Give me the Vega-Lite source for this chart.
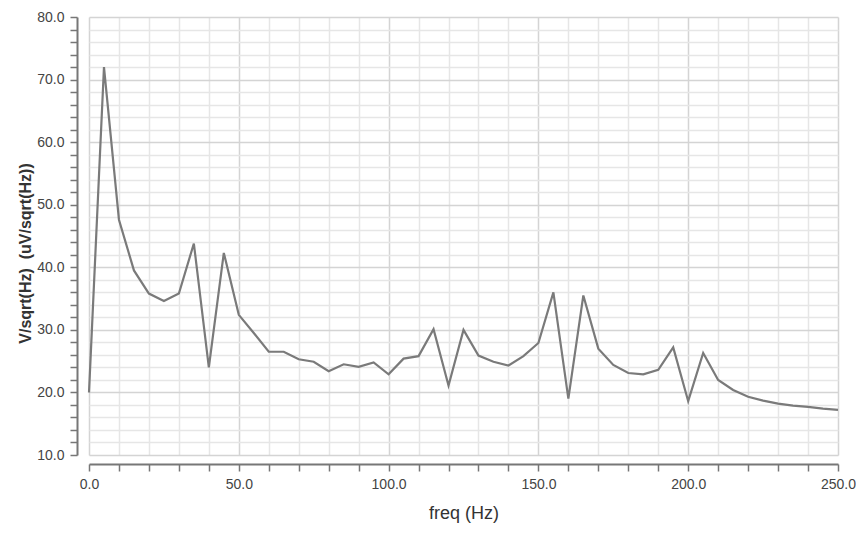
{
  "$schema": "https://vega.github.io/schema/vega-lite/v6.json",
  "autosize": "none",
  "width": 749,
  "height": 438,
  "padding": {"left": 89, "top": 17, "right": 18, "bottom": 84},
  "background": "white",
  "config": {
    "view": {"stroke": null},
    "font": "Liberation Sans"
  },
  "data": {
    "values": [
      {"freq": 0, "v": 20.0}, {"freq": 5, "v": 72.0}, {"freq": 10, "v": 47.6}, {"freq": 15, "v": 39.5},
      {"freq": 20, "v": 35.8}, {"freq": 25, "v": 34.6}, {"freq": 30, "v": 35.8}, {"freq": 35, "v": 43.8},
      {"freq": 40, "v": 24.0}, {"freq": 45, "v": 42.3}, {"freq": 50, "v": 32.4}, {"freq": 55, "v": 29.5},
      {"freq": 60, "v": 26.5}, {"freq": 65, "v": 26.5}, {"freq": 70, "v": 25.3}, {"freq": 75, "v": 24.9},
      {"freq": 80, "v": 23.4}, {"freq": 85, "v": 24.5}, {"freq": 90, "v": 24.1}, {"freq": 95, "v": 24.8},
      {"freq": 100, "v": 22.9}, {"freq": 105, "v": 25.4}, {"freq": 110, "v": 25.8}, {"freq": 115, "v": 30.1},
      {"freq": 120, "v": 21.1}, {"freq": 125, "v": 30.0}, {"freq": 130, "v": 25.9}, {"freq": 135, "v": 24.9},
      {"freq": 140, "v": 24.3}, {"freq": 145, "v": 25.8}, {"freq": 150, "v": 27.9}, {"freq": 155, "v": 36.0},
      {"freq": 160, "v": 19.0}, {"freq": 165, "v": 35.5}, {"freq": 170, "v": 27.0}, {"freq": 175, "v": 24.4},
      {"freq": 180, "v": 23.1}, {"freq": 185, "v": 22.9}, {"freq": 190, "v": 23.6}, {"freq": 195, "v": 27.2},
      {"freq": 200, "v": 18.6}, {"freq": 205, "v": 26.3}, {"freq": 210, "v": 22.0}, {"freq": 215, "v": 20.4},
      {"freq": 220, "v": 19.3}, {"freq": 225, "v": 18.7}, {"freq": 230, "v": 18.2}, {"freq": 235, "v": 17.9},
      {"freq": 240, "v": 17.7}, {"freq": 245, "v": 17.4}, {"freq": 250, "v": 17.2}
    ]
  },
  "mark": {"type": "line", "color": "#7a7a7a", "strokeWidth": 2.2},
  "encoding": {
    "x": {
      "field": "freq",
      "type": "quantitative",
      "scale": {"domain": [0, 250], "nice": false, "zero": false},
      "axis": {
        "title": "freq (Hz)",
        "titleFont": "Liberation Sans",
        "titleFontSize": 18,
        "titleFontWeight": "normal",
        "titleColor": "#333",
        "titlePadding": 13,
        "values": [0, 10, 20, 30, 40, 50, 60, 70, 80, 90, 100, 110, 120, 130, 140, 150, 160, 170, 180, 190, 200, 210, 220, 230, 240, 250],
        "labelExpr": "datum.value % 50 === 0 ? format(datum.value, '.1f') : ''",
        "labelFontSize": 14,
        "labelColor": "#444",
        "labelPadding": 6,
        "labelFlush": false,
        "labelOverlap": false,
        "offset": 9,
        "domainColor": "#777",
        "domainWidth": 2,
        "tickColor": "#777",
        "tickWidth": 1.5,
        "tickSize": 7,
        "grid": true,
        "gridColor": {"condition": {"test": "datum.value % 50 === 0", "value": "#d4d4d4"}, "value": "#e6e6e6"},
        "gridWidth": 1.5
      }
    },
    "y": {
      "field": "v",
      "type": "quantitative",
      "scale": {"domain": [10, 80], "nice": false, "zero": false},
      "axis": {
        "title": "V/sqrt(Hz)\u00a0\u00a0(uV/sqrt(Hz))",
        "titleFont": "Liberation Sans",
        "titleFontSize": 16,
        "titleFontWeight": "bold",
        "titleColor": "#333",
        "titlePadding": 3,
        "titleY": 236,
        "values": [10, 12, 14, 16, 18, 20, 22, 24, 26, 28, 30, 32, 34, 36, 38, 40, 42, 44, 46, 48, 50, 52, 54, 56, 58, 60, 62, 64, 66, 68, 70, 72, 74, 76, 78, 80],
        "labelExpr": "datum.value % 10 === 0 ? format(datum.value, '.1f') : ''",
        "labelFontSize": 14,
        "labelColor": "#444",
        "labelPadding": 6,
        "labelFlush": false,
        "labelOverlap": false,
        "offset": 12,
        "domainColor": "#777",
        "domainWidth": 2,
        "tickColor": "#777",
        "tickWidth": 1.5,
        "tickSize": 7,
        "grid": true,
        "gridColor": {"condition": {"test": "datum.value % 10 === 0", "value": "#d4d4d4"}, "value": "#e6e6e6"},
        "gridWidth": 1.5
      }
    }
  }
}
